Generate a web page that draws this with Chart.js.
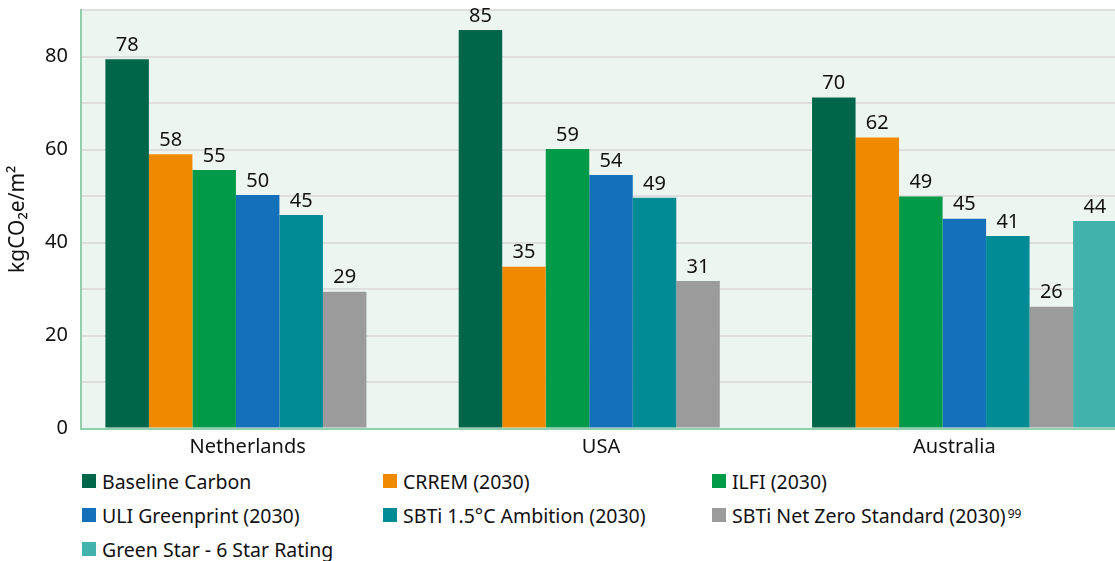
<!DOCTYPE html>
<html lang="en">
  <head>
    <meta charset="UTF-8" />
    <title>Carbon targets</title>
    <script src="https://cdn.jsdelivr.net/npm/chart.js"></script>
    <style>
      body { margin: 0; overflow: hidden; background: #fff; font-family: "Noto Sans", sans-serif; }
      .wrap { position: relative; width: 1115px; height: 561px; overflow: hidden; }
      #chart { position: absolute; left: 0; top: 0; }
      .legend {
        position: absolute; left: 82px; top: 467px;
        display: grid; grid-template-columns: 301px 329px 300px;
        row-gap: 6px; font-size: 19.5px; color: #111;
      }
      .legend div { display: flex; align-items: center; height: 28px; white-space: nowrap; }
      .legend span.box { width: 14px; height: 14px; margin-right: 6px; flex: none; }
      .legend sup { font-size: 12px; margin-left: 2px; position: relative; top: -2px; }
    </style>
  </head>
  <body>
    <div class="wrap">
      <canvas id="chart" width="1141" height="462"></canvas>
      <div class="legend" id="legend"></div>
    </div>
    <script>
      // categories
      const countries = ["Netherlands", "USA", "Australia"];

      // bar heights and the printed labels
      const baseline = [79.4, 85.7, 71.2];
      const baselineLbl = [78, 85, 70];
      const crrem = [59.0, 34.8, 62.6];
      const crremLbl = [58, 35, 62];
      const ilfi = [55.6, 60.1, 49.9];
      const ilfiLbl = [55, 59, 49];
      const uli = [50.2, 54.5, 45.1];
      const uliLbl = [50, 54, 45];
      const sbti15 = [45.9, 49.6, 41.4];
      const sbti15Lbl = [45, 49, 41];
      const sbtiNz = [29.4, 31.7, 26.2];
      const sbtiNzLbl = [29, 31, 26];
      const greenStar = [null, null, 44.6];
      const greenStarLbl = [null, null, 44];

      const yTicks = [0, 20, 40, 60, 80];

      const series = [
        { label: "Baseline Carbon", data: baseline, lbl: baselineLbl, color: "#00664a" },
        { label: "CRREM (2030)", data: crrem, lbl: crremLbl, color: "#ef8a00" },
        { label: "ILFI (2030)", data: ilfi, lbl: ilfiLbl, color: "#009a48" },
        { label: "ULI Greenprint (2030)", data: uli, lbl: uliLbl, color: "#1470b8" },
        { label: "SBTi 1.5°C Ambition (2030)", data: sbti15, lbl: sbti15Lbl, color: "#008b95" },
        { label: "SBTi Net Zero Standard (2030)", data: sbtiNz, lbl: sbtiNzLbl, color: "#9b9b9b", note: "99" },
        { label: "Green Star - 6 Star Rating", data: greenStar, lbl: greenStarLbl, color: "#42b2ac" },
      ];

      const FONT = "'Noto Sans', sans-serif";

      // light plot background
      const plotBg = {
        id: "plotBg",
        beforeDraw(chart) {
          const a = chart.chartArea;
          const ctx = chart.ctx;
          ctx.save();
          ctx.fillStyle = "#edf5f0";
          ctx.fillRect(a.left, a.top, a.right - a.left, a.bottom - a.top);
          ctx.restore();
        },
      };

      // value labels above bars
      const valueLabels = {
        id: "valueLabels",
        afterDatasetsDraw(chart) {
          const ctx = chart.ctx;
          ctx.save();
          ctx.font = "20px " + FONT;
          ctx.fillStyle = "#111";
          ctx.textAlign = "center";
          ctx.textBaseline = "bottom";
          chart.data.datasets.forEach((ds, i) => {
            chart.getDatasetMeta(i).data.forEach((bar, j) => {
              const v = ds.printed[j];
              if (v == null) return;
              ctx.fillText(String(v), bar.x, bar.y - 4);
            });
          });
          ctx.restore();
        },
      };

      const chart = new Chart(document.getElementById("chart"), {
        type: "bar",
        data: {
          labels: countries,
          datasets: series.map((s) => ({
            label: s.label,
            data: s.data,
            printed: s.lbl,
            backgroundColor: s.color,
            borderWidth: 0,
          })),
        },
        options: {
          responsive: false,
          animation: false,
          categoryPercentage: 0.862,
          barPercentage: 1,
          layout: { padding: { top: 10, right: 0, left: 0, bottom: 0 } },
          plugins: {
            legend: { display: false },
            tooltip: { enabled: false },
          },
          scales: {
            x: {
              grid: { display: false, drawTicks: false },
              border: { color: "#93cfac", width: 2 },
              ticks: {
                color: "#111",
                font: { family: FONT, size: 20 },
                padding: 7,
                labelOffset: -10,
              },
              afterFit(scale) {
                scale.height = 33.5;
                scale.paddingLeft = 0;
                scale.paddingRight = 0;
              },
            },
            y: {
              min: 0,
              max: 90,
              grid: { color: "#dedede", lineWidth: 2, drawTicks: false },
              border: { color: "#93cfac", width: 2 },
              ticks: {
                stepSize: 10,
                color: "#111",
                font: { family: FONT, size: 20 },
                padding: 13,
                callback: (v) => (yTicks.includes(v) ? String(v) : ""),
              },
              title: {
                display: true,
                text: "kgCO₂e/m²",
                color: "#111",
                font: { family: FONT, size: 21 },
                padding: { top: 5, bottom: 0 },
              },
              afterFit(scale) {
                scale.width = 81;
                scale.paddingTop = 0;
                scale.paddingBottom = 0;
              },
            },
          },
        },
        plugins: [plotBg, valueLabels],
      });

      // legend in three columns, like the original
      const legend = document.getElementById("legend");
      series.forEach((s) => {
        const item = document.createElement("div");
        const box = document.createElement("span");
        box.className = "box";
        box.style.background = s.color;
        item.appendChild(box);
        item.appendChild(document.createTextNode(s.label));
        if (s.note) {
          const sup = document.createElement("sup");
          sup.textContent = s.note;
          item.appendChild(sup);
        }
        legend.appendChild(item);
      });
    </script>
  </body>
</html>
